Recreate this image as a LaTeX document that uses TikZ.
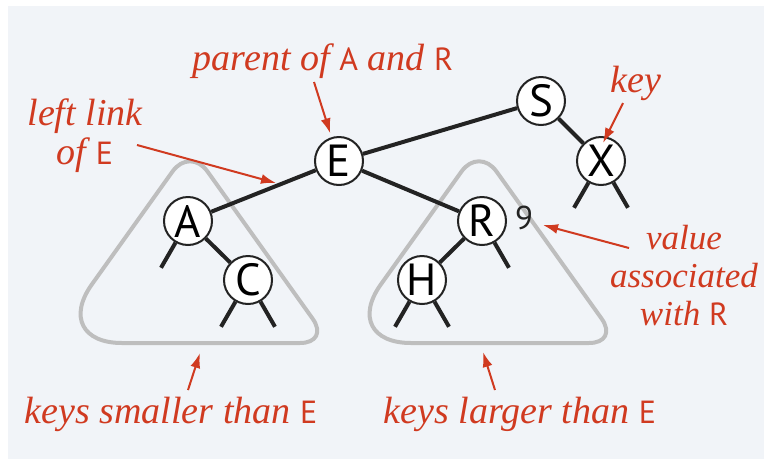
\documentclass[tikz,border=0pt]{standalone}
\usepackage{fontspec}
\setmainfont{Liberation Serif}
\setsansfont{PT Sans}
\usetikzlibrary{positioning}
\usetikzlibrary{calc}
\usetikzlibrary{arrows.meta}

\definecolor{panelbg}{RGB}{241,244,248}
\definecolor{notered}{RGB}{208,58,32}
\definecolor{subtreegray}{RGB}{190,190,190}
\definecolor{ink}{RGB}{35,35,35}

\newcommand{\keyname}[1]{{\sffamily\upshape\fontsize{32}{32}\selectfont #1}}

\tikzset{
  treenode/.style={circle, draw=ink, line width=2, fill=white, minimum size=48, inner sep=0pt,
    font=\sffamily\fontsize{45}{45}\selectfont},
  treelink/.style={draw=ink, line width=4},
  callout/.style={text=notered, font=\itshape\fontsize{38}{39}\selectfont, align=center, inner sep=0pt},
  calloutarrow/.style={draw=notered, line width=2, -{Latex[length=15,width=10]}},
  subtri/.style={draw=subtreegray, line width=4}
}

\begin{document}
\begin{tikzpicture}[x=1pt, y=-1pt]
    \useasboundingbox (0,0) rectangle (764,459);
    \fill[panelbg] (8,6) rectangle (764,459);

    % subtrees
    \draw[subtri] (190,343) [rounded corners=30] -- (330,343) -- (190,147) [rounded corners=72] -- (50,343) [rounded corners=30] -- cycle;
    \draw[subtri] (479,343) [rounded corners=30] -- (619,343) -- (479,147) [rounded corners=72] -- (339,343) [rounded corners=30] -- cycle;

    % the tree
    \node[treenode] (E) at (339,161) {E};
    \node[treenode] (S) at (541,101) {S};
    \node[treenode] (A) at (188,221) {A};
    \node[treenode] (R) at (482,221) {R};
    \node[treenode] (C) at ($(A)+(60,59)$) {C};
    \node[treenode] (H) at ($(R)+(-60,59)$) {H};
    \node[treenode] (X) at ($(S)+(60,60)$) {X};

    \draw[treelink] (E) -- (S);
    \draw[treelink] (E) -- (A);
    \draw[treelink] (E) -- (R);
    \draw[treelink] (A) -- (C);
    \draw[treelink] (R) -- (H);
    \draw[treelink] (S) -- (X);

    % null links
    \foreach \n/\a in {A/240, C/240, C/300, R/300, H/240, H/300, X/240, X/300} {
        \coordinate (\n-\a) at ($(\n)+(\a:54pt)$);
        \draw[treelink] (\n) -- (\n-\a);
    }

    \node[font=\sffamily\fontsize{33}{33}\selectfont, text=ink] (val) at (524,218) {9};

    % labels
    \node[callout, anchor=base] (parent) at (323,70) {parent of \keyname{A} and \keyname{R}};
    \node[callout, anchor=base] (keylbl) at (636,92) {key};
    \node[callout] (leftlink) at (85,136) {left link\\of \keyname{E}};
    \node[callout, font=\itshape\fontsize{35}{38}\selectfont] (value) at (684,276) {value\\associated\\with \keyname{R}};
    \node[callout, anchor=base] (smaller) at (171,423) {keys smaller than \keyname{E}};
    \node[callout, anchor=base] (larger) at (520,423) {keys larger than \keyname{E}};

    \coordinate (parent-tail) at (314,82);
    \coordinate (key-tail) at (623,103);
    \coordinate (key-tip) at (603,143);
    \coordinate (link-tail) at (137,145);
    \coordinate (link-tip) at (276,183);
    \coordinate (value-tail) at (629,248);
    \coordinate (value-tip) at (543,225);
    \coordinate (smaller-tail) at (188,390);
    \coordinate (smaller-tip) at (200,353);
    \coordinate (larger-tail) at (495,390);
    \coordinate (larger-tip) at (483,352);

    \draw[calloutarrow, shorten >=4pt] (parent-tail) -- (E);
    \draw[calloutarrow] (key-tail) -- (key-tip);
    \draw[calloutarrow] (link-tail) -- (link-tip);
    \draw[calloutarrow] (value-tail) -- (value-tip);
    \draw[calloutarrow] (smaller-tail) -- (smaller-tip);
    \draw[calloutarrow] (larger-tail) -- (larger-tip);
\end{tikzpicture}
\end{document}
